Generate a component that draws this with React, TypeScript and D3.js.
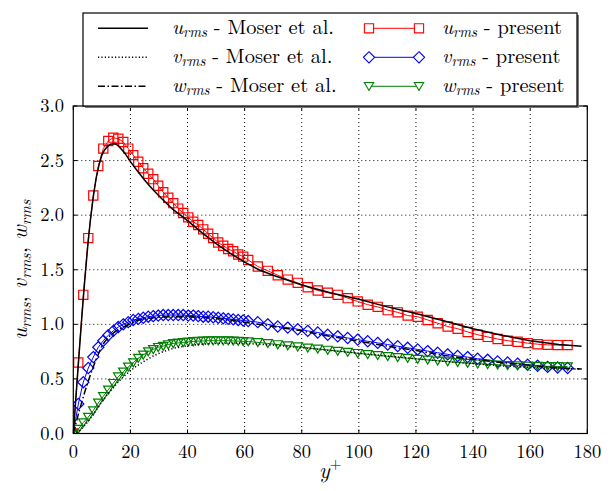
import React from 'react';
import * as d3 from 'd3';

// ---- data ----
const yPlus = [0, 1.75, 3.5, 5.25, 7, 8.75, 10.5, 12.25, 14, 15.75, 17.5, 19.25, 21, 22.75, 24.5, 26.25, 28, 29.75, 31.5, 33.25, 35, 36.75, 38.5, 40.25, 42, 43.75, 45.5, 47.25, 49, 50.75, 52.5, 54.25, 56, 57.75, 59.5, 61.25,
  64.6, 68.1, 71.6, 75.1, 78.6, 82.1, 85.6, 89.1, 92.6, 96.1, 99.6, 103.1, 106.6, 110.1, 113.6, 117.1, 120.6, 124.1, 127.6, 131.1, 134.6, 138.1, 141.6, 145.1, 148.6, 152.1, 155.6, 159.1, 162.6, 166.1, 169.6, 173.1];

const uPresent = [0, 0.65, 1.27, 1.79, 2.18, 2.45, 2.61, 2.68, 2.71, 2.70, 2.67, 2.61, 2.55, 2.49, 2.43, 2.38, 2.33, 2.27, 2.21, 2.16, 2.11, 2.06, 2.02, 1.98, 1.94, 1.91, 1.87, 1.83, 1.79, 1.75, 1.72, 1.69, 1.67, 1.64, 1.62, 1.59,
  1.53, 1.49, 1.45, 1.41, 1.38, 1.34, 1.31, 1.29, 1.27, 1.24, 1.21, 1.18, 1.16, 1.13, 1.11, 1.08, 1.07, 1.04, 1.01, 0.98, 0.96, 0.93, 0.905, 0.885, 0.865, 0.85, 0.84, 0.828, 0.818, 0.812, 0.81, 0.81];

const vPresent = [0, 0.27, 0.47, 0.60, 0.70, 0.79, 0.85, 0.90, 0.94, 0.975, 1.0, 1.02, 1.04, 1.05, 1.06, 1.07, 1.075, 1.08, 1.085, 1.085, 1.085, 1.085, 1.085, 1.08, 1.08, 1.075, 1.07, 1.07, 1.065, 1.06, 1.055, 1.05, 1.045, 1.04, 1.035, 1.03,
  1.02, 1.0, 0.98, 0.97, 0.955, 0.94, 0.925, 0.905, 0.89, 0.875, 0.86, 0.845, 0.83, 0.815, 0.80, 0.785, 0.77, 0.755, 0.74, 0.725, 0.71, 0.70, 0.685, 0.675, 0.66, 0.65, 0.64, 0.63, 0.62, 0.61, 0.605, 0.60];

const wPresent = [0, 0.04, 0.10, 0.15, 0.21, 0.28, 0.34, 0.40, 0.46, 0.52, 0.565, 0.61, 0.65, 0.69, 0.72, 0.75, 0.77, 0.79, 0.80, 0.815, 0.825, 0.83, 0.835, 0.84, 0.843, 0.846, 0.848, 0.85, 0.85, 0.85, 0.85, 0.85, 0.848, 0.846, 0.844, 0.842,
  0.835, 0.825, 0.815, 0.805, 0.795, 0.785, 0.775, 0.765, 0.755, 0.745, 0.735, 0.725, 0.716, 0.707, 0.698, 0.69, 0.682, 0.674, 0.666, 0.658, 0.651, 0.645, 0.639, 0.634, 0.629, 0.625, 0.622, 0.619, 0.617, 0.615, 0.614, 0.613];

const moserY = [0, 1, 2, 3, 4, 5, 6, 7, 8, 9, 10, 11, 12, 13, 14, 15, 16, 18, 20, 22, 25, 28, 31, 35, 40, 45, 50, 55, 60, 65, 70, 80, 90, 100, 110, 120, 130, 140, 150, 160, 170, 178];
const moserU = [0, 0.36, 0.72, 1.07, 1.40, 1.70, 1.96, 2.17, 2.34, 2.46, 2.55, 2.60, 2.63, 2.65, 2.655, 2.65, 2.63, 2.57, 2.49, 2.42, 2.32, 2.23, 2.15, 2.05, 1.95, 1.84, 1.74, 1.65, 1.57, 1.50, 1.45, 1.36, 1.29, 1.23, 1.16, 1.10, 1.03, 0.96, 0.90, 0.85, 0.815, 0.80];
const moserV = [0, 0.005, 0.02, 0.045, 0.075, 0.105, 0.14, 0.175, 0.215, 0.25, 0.29, 0.325, 0.36, 0.39, 0.42, 0.45, 0.48, 0.53, 0.575, 0.615, 0.665, 0.71, 0.745, 0.78, 0.805, 0.818, 0.826, 0.828, 0.825, 0.818, 0.81, 0.785, 0.76, 0.735, 0.71, 0.685, 0.66, 0.64, 0.62, 0.605, 0.595, 0.59];
const moserW = [0, 0.10, 0.20, 0.29, 0.38, 0.46, 0.54, 0.61, 0.68, 0.74, 0.80, 0.84, 0.87, 0.90, 0.92, 0.94, 0.955, 0.98, 1.01, 1.035, 1.05, 1.06, 1.067, 1.07, 1.07, 1.065, 1.055, 1.04, 1.02, 1.0, 0.98, 0.94, 0.89, 0.845, 0.80, 0.76, 0.715, 0.68, 0.65, 0.625, 0.60, 0.59];

const xTicks = [0, 20, 40, 60, 80, 100, 120, 140, 160, 180];
const yTicks = [0, 0.5, 1.0, 1.5, 2.0, 2.5, 3.0];
const yTickLabels = ['0.0', '0.5', '1.0', '1.5', '2.0', '2.5', '3.0'];

// ---- layout ----
const W = 615, H = 491;
const L = 73.3, R = 587.3, T = 106, B = 433.5;
const FONT = "'Latin Modern Roman', 'Liberation Serif', serif";

const x = d3.scaleLinear().domain([0, 180]).range([L, R]);
const y = d3.scaleLinear().domain([0, 3]).range([B, T]);

const RED = '#ff0000', BLUE = '#0000ff', GREEN = '#008000';

function square(cx: number, cy: number, s = 4.6) {
  return `M${cx - s},${cy - s}h${2 * s}v${2 * s}h${-2 * s}Z`;
}
function diamond(cx: number, cy: number, s = 5.6) {
  return `M${cx},${cy - s}L${cx + s},${cy}L${cx},${cy + s}L${cx - s},${cy}Z`;
}
function tri(cx: number, cy: number, s = 4.7) {
  return `M${cx - s},${cy - s * 0.8}L${cx + s},${cy - s * 0.8}L${cx},${cy + s * 0.9}Z`;
}

function App() {
  const lineGen = (xs: number[], ys: number[]) =>
    d3.line<number>().x((_, i) => x(xs[i])).y((_, i) => y(ys[i]))(xs) || '';

  const present = [
    { vals: uPresent, color: RED, shape: square },
    { vals: vPresent, color: BLUE, shape: diamond },
    { vals: wPresent, color: GREEN, shape: tri },
  ];
  const moser = [
    { vals: moserU, dash: undefined as string | undefined },
    { vals: moserV, dash: '1.2 2.2' },
    { vals: moserW, dash: '7 2.5 1.5 2.5' },
  ];

  const legendRows = [
    { sym: 'u', dash: undefined as string | undefined, color: RED, shape: square },
    { sym: 'v', dash: '1.2 2.2', color: BLUE, shape: diamond },
    { sym: 'w', dash: '7 2.5 1.5 2.5', color: GREEN, shape: tri },
  ];
  const rowY = [28.3, 57.3, 86.3];

  return (
    <svg width={W} height={H} style={{ position: 'absolute', left: 0, top: 0, background: '#fff', fontFamily: FONT }}>
      <defs>
        <clipPath id="plotclip">
          <rect x={L} y={T} width={R - L} height={B - T} />
        </clipPath>
      </defs>
      <rect x={0} y={0} width={W} height={H} fill="#fff" />
      {/* grid */}
      <g stroke="#000" strokeWidth={1} strokeDasharray="1 3">
        {xTicks.slice(1, -1).map((t) => (
          <line key={'gx' + t} x1={x(t)} x2={x(t)} y1={T} y2={B} />
        ))}
        {yTicks.slice(1, -1).map((t) => (
          <line key={'gy' + t} x1={L} x2={R} y1={y(t)} y2={y(t)} />
        ))}
      </g>
      {/* present data */}
      <g clipPath="url(#plotclip)">
        {present.map((s, k) => (
          <g key={'p' + k}>
            <path d={lineGen(yPlus, s.vals)} fill="none" stroke={s.color} strokeWidth={1} />
            {yPlus.map((yp, i) => (
              <path key={i} d={s.shape(x(yp), y(s.vals[i]))} fill="none" stroke={s.color} strokeWidth={1.2} />
            ))}
          </g>
        ))}
        {moser.map((m, k) => (
          <path key={'m' + k} d={lineGen(moserY, m.vals)} fill="none" stroke="#000" strokeWidth={1.5} strokeDasharray={m.dash} />
        ))}
      </g>
      {/* axes frame */}
      <rect x={L} y={T} width={R - L} height={B - T} fill="none" stroke="#000" strokeWidth={1.2} />
      {/* ticks */}
      <g stroke="#000" strokeWidth={1}>
        {xTicks.map((t) => (
          <g key={'tx' + t}>
            <line x1={x(t)} x2={x(t)} y1={B} y2={B - 4} />
            <line x1={x(t)} x2={x(t)} y1={T} y2={T + 4} />
          </g>
        ))}
        {yTicks.map((t) => (
          <g key={'ty' + t}>
            <line x1={L} x2={L + 4} y1={y(t)} y2={y(t)} />
            <line x1={R} x2={R - 4} y1={y(t)} y2={y(t)} />
          </g>
        ))}
      </g>
      {/* tick labels */}
      <g fontSize={18.5} fill="#000">
        {xTicks.map((t) => (
          <text key={'lx' + t} x={x(t)} y={458} textAnchor="middle">{t}</text>
        ))}
        {yTicks.map((t, i) => (
          <text key={'ly' + t} x={64} y={y(t) + 6} textAnchor="end">{yTickLabels[i]}</text>
        ))}
      </g>
      {/* axis labels */}
      <text x={(L + R) / 2} y={478} textAnchor="middle" fontSize={22}>
        <tspan fontStyle="italic">y</tspan>
        <tspan fontSize={15} dy={-9}>+</tspan>
      </text>
      <text transform={`translate(27, ${(T + B) / 2}) rotate(-90)`} textAnchor="middle" fontSize={22}>
        <tspan fontStyle="italic">u</tspan>
        <tspan fontStyle="italic" fontSize={15.5} dy={4}>rms</tspan>
        <tspan dy={-4}>, </tspan>
        <tspan fontStyle="italic">v</tspan>
        <tspan fontStyle="italic" fontSize={15.5} dy={4}>rms</tspan>
        <tspan dy={-4}>, </tspan>
        <tspan fontStyle="italic">w</tspan>
        <tspan fontStyle="italic" fontSize={15.5} dy={4}>rms</tspan>
      </text>
      {/* legend */}
      <rect x={85} y={15} width={494} height={93} fill="#777" />
      <rect x={83} y={13} width={494} height={93} fill="#fff" stroke="#000" strokeWidth={1.2} />
      {legendRows.map((r, i) => (
        <g key={'lg' + i}>
          <line x1={98} x2={148} y1={rowY[i]} y2={rowY[i]} stroke="#000" strokeWidth={1.5} strokeDasharray={r.dash} />
          <text x={172} y={rowY[i] + 5.5} fontSize={20.5}>
            <tspan fontStyle="italic">{r.sym}</tspan>
            <tspan fontStyle="italic" fontSize={14.5} dy={3.5}>rms</tspan>
            <tspan dy={-3.5}> - Moser et al.</tspan>
          </text>
          <line x1={369} x2={419} y1={rowY[i]} y2={rowY[i]} stroke={r.color} strokeWidth={1} />
          <path d={r.shape(369, rowY[i])} fill="#fff" stroke={r.color} strokeWidth={1.1} />
          <path d={r.shape(419, rowY[i])} fill="#fff" stroke={r.color} strokeWidth={1.1} />
          <text x={442} y={rowY[i] + 5.5} fontSize={20.5}>
            <tspan fontStyle="italic">{r.sym}</tspan>
            <tspan fontStyle="italic" fontSize={14.5} dy={3.5}>rms</tspan>
            <tspan dy={-3.5}> - present</tspan>
          </text>
        </g>
      ))}
    </svg>
  );
}

export default App;
